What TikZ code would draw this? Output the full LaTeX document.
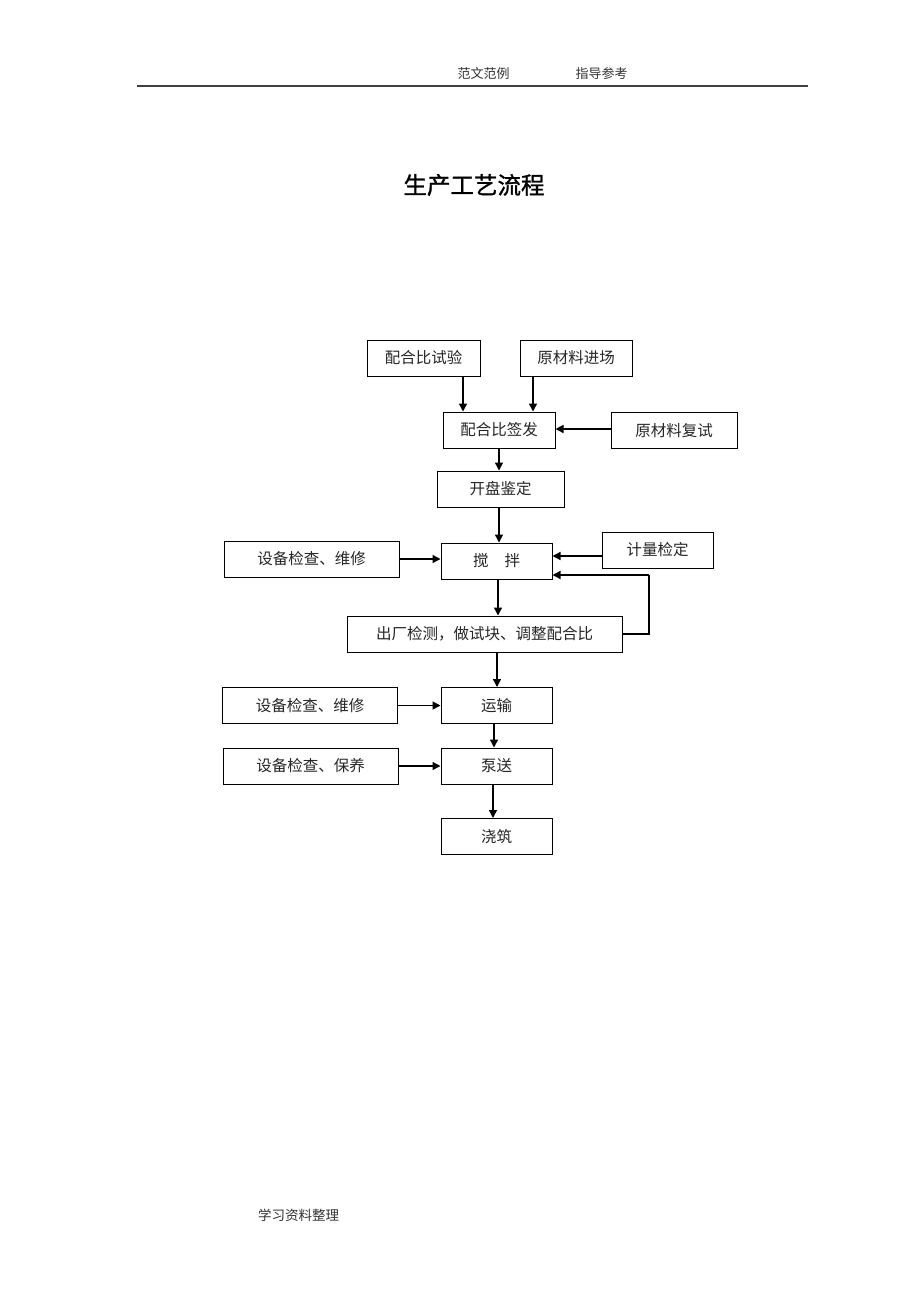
\documentclass[tikz,border=0pt]{standalone}
\usepackage{fontspec}
\setmainfont{Noto Sans CJK SC}
\newfontfamily\titlefont[FakeBold=1.2]{Noto Sans CJK SC}
\usetikzlibrary{arrows.meta}
\tikzset{
  box/.style={draw=black, line width=1pt, minimum height=36pt, inner sep=0pt,
    font=\fontsize{15.5}{18}\selectfont, text=black!85},
  arr/.style={line width=1.4pt, -{Triangle[length=8pt,width=8pt]}},
  plain/.style={line width=1.4pt}
}
\begin{document}
\begin{tikzpicture}[x=1pt,y=-1pt]
\useasboundingbox (0,0) rectangle (920,1302);
\fill[white] (0,0) rectangle (920,1302);
% header
\node[font=\fontsize{13}{15}\selectfont, text=black!80] (h1) at (483.5,74) {范文范例};
\node[font=\fontsize{13}{15}\selectfont, text=black!80] (h2) at (601.5,74) {指导参考};
\coordinate (hl) at (137,86);
\coordinate (hr) at (808,86);
\draw[line width=1.6pt, black!75] (hl) -- (hr);
% title
\node[font=\titlefont\fontsize{23.5}{27}\selectfont] (title) at (474,185) {生产工艺流程};
% boxes
\node[box, minimum width=113pt] (a1) at (423.5,358) {配合比试验};
\node[box, minimum width=112pt] (a2) at (576,358) {原材料进场};
\node[box, minimum width=112pt] (b) at (499,430) {配合比签发};
\node[box, minimum width=126pt] (c) at (674,430.5) {原材料复试};
\node[box, minimum width=127pt] (d) at (500.5,489) {开盘鉴定};
\node[box, minimum width=111pt] (e) at (496.5,561) {搅\hspace{16pt}拌};
\node[box, minimum width=175pt] (f) at (311.5,559) {设备检查、维修};
\node[box, minimum width=111pt] (g) at (657.5,550) {计量检定};
\node[box, minimum width=275pt] (h) at (484.5,634) {出厂检测，做试块、调整配合比};
\node[box, minimum width=175pt] (i) at (310,705.5) {设备检查、维修};
\node[box, minimum width=111pt] (j) at (496.5,705.5) {运输};
\node[box, minimum width=175pt] (k) at (310.5,766) {设备检查、保养};
\node[box, minimum width=111pt] (l) at (496.5,766) {泵送};
\node[box, minimum width=111pt] (m) at (496.5,836.5) {浇筑};
% footer
\node[font=\fontsize{13.5}{16}\selectfont, text=black!80] (foot) at (298.5,1215) {学习资料整理};
% arrows
\draw[arr] ([xshift=39.5pt]a1.south) -- ([xshift=39.5pt]a1.south |- b.north);
\draw[arr] ([xshift=-43pt]a2.south) -- ([xshift=-43pt]a2.south |- b.north);
\draw[arr] ([yshift=1.5pt]c.west) -- ([yshift=1.5pt]c.west -| b.east);
\draw[arr] (b.south) -- (b.south |- d.north);
\draw[arr] ([xshift=-1.5pt]d.south) -- ([xshift=-1.5pt]d.south |- e.north);
\draw[arr] (f.east) -- (f.east -| e.west);
\draw[arr] ([yshift=-6pt]g.west) -- ([yshift=-6pt]g.west -| e.east);
\coordinate (fb) at (649,575);
\draw[plain] (h.east) -| (fb);
\draw[arr] (fb) -- (fb -| e.east);
\draw[arr] ([xshift=1.5pt]e.south) -- ([xshift=1.5pt]e.south |- h.north);
\draw[arr] ([xshift=12.5pt]h.south) -- ([xshift=12.5pt]h.south |- j.north);
\draw[arr] ([xshift=-2.5pt]j.south) -- ([xshift=-2.5pt]j.south |- l.north);
\draw[arr] ([xshift=-3.5pt]l.south) -- ([xshift=-3.5pt]l.south |- m.north);
\draw[arr] (i.east) -- (i.east -| j.west);
\draw[arr] (k.east) -- (k.east -| l.west);
\end{tikzpicture}
\end{document}
